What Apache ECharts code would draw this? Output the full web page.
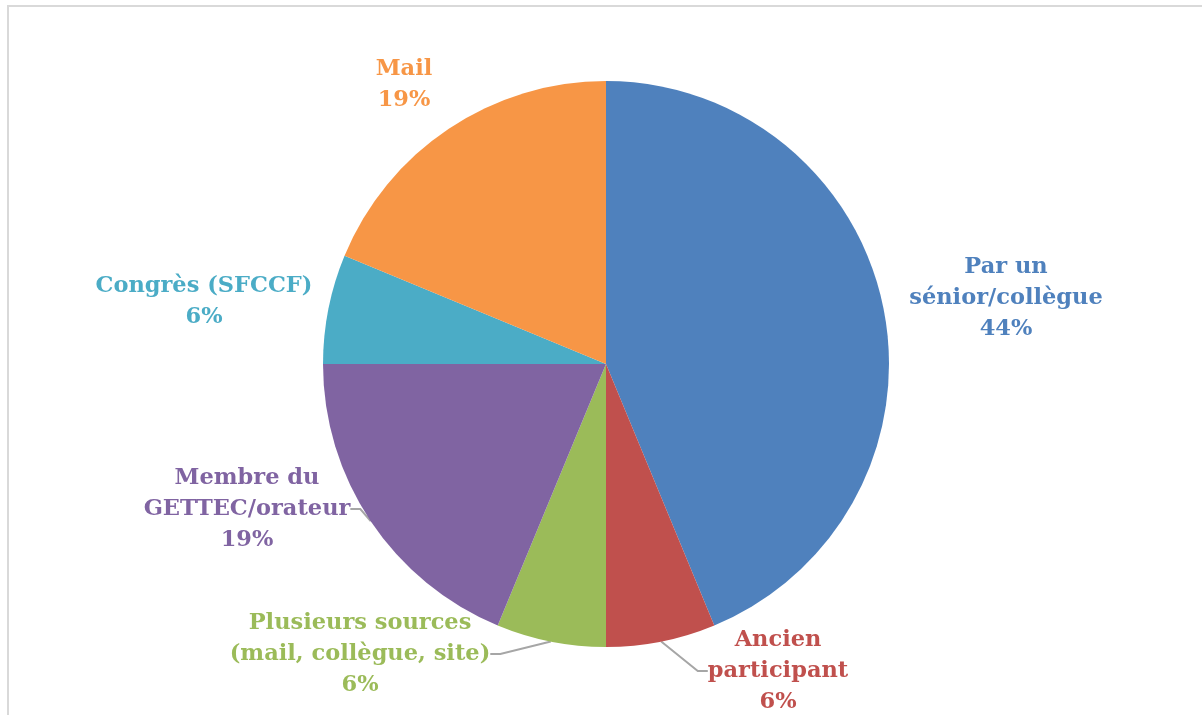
<!DOCTYPE html>
<html>
<head>
<meta charset="utf-8">
<script src="https://cdn.jsdelivr.net/npm/echarts@6/dist/echarts.min.js"></script>
<style>
  html, body { margin: 0; padding: 0; background: #fff; }
  #chart { width: 1202px; height: 715px; }
</style>
</head>
<body>
<div id="chart"></div>
<script>
// respondents per source (16 in total)
const categories = [
  "Par un\nsénior/collègue",
  "Ancien\nparticipant",
  "Plusieurs sources\n(mail, collègue, site)",
  "Membre du\nGETTEC/orateur",
  "Congrès (SFCCF)",
  "Mail"
];
const counts = [7, 1, 1, 3, 1, 3];
const colors = ["#4F81BD", "#C0504D", "#9BBB59", "#8064A2", "#4BACC6", "#F79646"];

// where each label sits (centre of the text block)
const labelPos = [
  [1006, 298],
  [778, 671],
  [360, 654],
  [247, 509],
  [204, 302],
  [404, 85]
];
const showLine = [false, true, true, true, false, false];

const chart = echarts.init(document.getElementById("chart"));

const option = {
  animation: false,
  graphic: [
    {
      type: "rect",
      shape: { x: 8, y: 6, width: 1230, height: 760 },
      style: { fill: "none", stroke: "#d9d9d9", lineWidth: 2 }
    }
  ],
  series: [
    {
      type: "pie",
      center: [606, 364],
      radius: 283,
      startAngle: 90,
      clockwise: true,
      data: categories.map(function (name, i) {
        return {
          name: name,
          value: counts[i],
          itemStyle: { color: colors[i] },
          labelLine: { show: showLine[i] }
        };
      }),
      label: {
        show: true,
        position: "outside",
        color: "inherit",
        fontFamily: "DejaVu Serif",
        fontWeight: "bold",
        fontSize: 22.5,
        lineHeight: 31,
        align: "center",
        formatter: function (p) {
          return p.name + "\n" + Math.round(p.percent) + "%";
        }
      },
      labelLine: {
        show: true,
        length: 10,
        length2: 10,
        lineStyle: { color: "#a6a6a6", width: 2 }
      },
      labelLayout: function (params) {
        const pos = labelPos[params.dataIndex];
        return {
          x: pos[0],
          y: pos[1],
          align: "center",
          verticalAlign: "middle"
        };
      }
    }
  ]
};

chart.setOption(option);
</script>
</body>
</html>
